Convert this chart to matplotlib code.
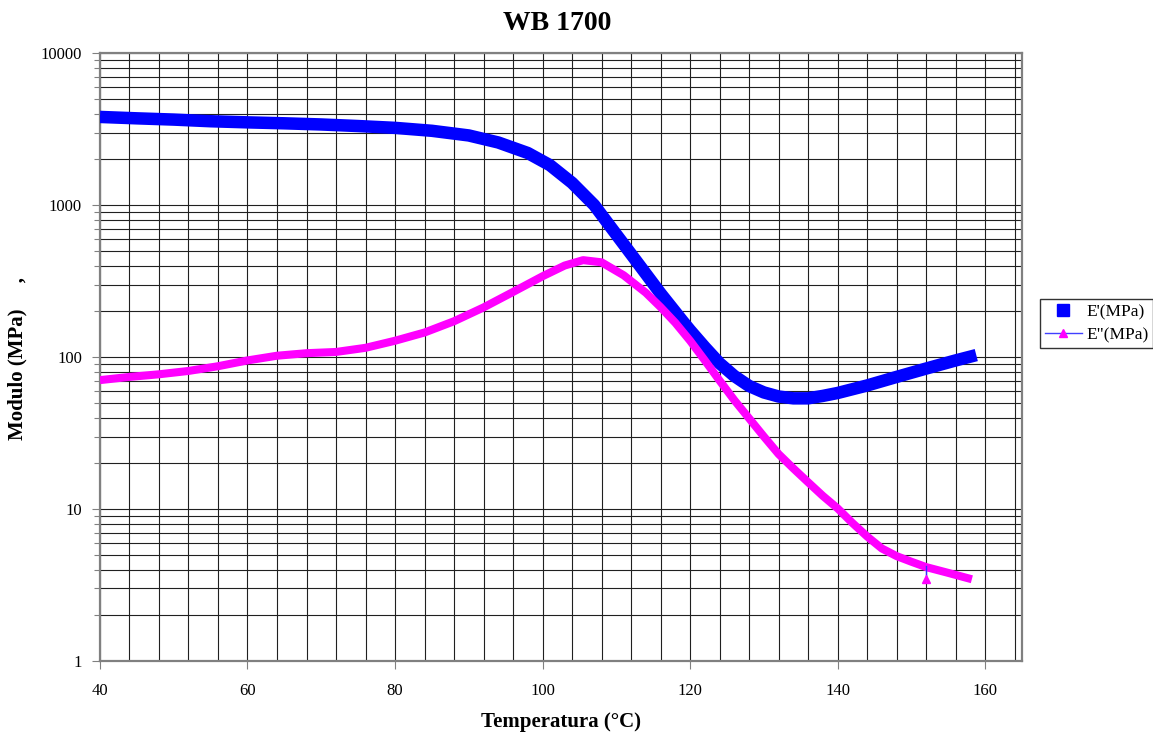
import matplotlib
matplotlib.use("Agg")
import matplotlib.pyplot as plt
from matplotlib.lines import Line2D
from matplotlib.ticker import FixedLocator, LogLocator, NullFormatter

plt.rcParams['font.family'] = ['Liberation Serif', 'DejaVu Serif']

# E' (storage modulus)
T_e1 = [40, 45, 50, 55, 60, 65, 70, 75, 80, 85, 90, 94, 98, 101, 104, 107,
        110, 113, 116, 119, 120, 122, 124, 126, 128, 130, 132, 134, 136, 138,
        140, 144, 148, 152, 156, 158.8]
E1 = [3800, 3720, 3650, 3560, 3500, 3450, 3390, 3310, 3220, 3080, 2870, 2580,
      2200, 1830, 1400, 1000, 640, 410, 262, 172, 150, 116, 91, 75, 64.5, 58.5,
      55, 53.5, 53.5, 55.5, 58, 65, 74, 84, 95, 103]

# E'' (loss modulus)
T_e2 = [40, 44, 48, 52, 56, 60, 64, 68, 72, 76, 80, 84, 88, 92, 96, 100, 103,
        105.5, 108, 111, 114, 116, 118, 120, 122, 124, 126, 128, 130, 132, 134,
        136, 138, 140, 142, 144, 146, 148, 150, 152, 155, 158.2]
E2 = [70.5, 74, 77, 81, 87, 95, 102, 106, 108, 115, 128, 145, 172, 212, 268,
      340, 400, 434, 420, 345, 265, 213, 168, 128, 95, 70, 52, 39.5, 30, 23,
      18.5, 15, 12.2, 10.1, 8.1, 6.6, 5.5, 4.9, 4.5, 4.15, 3.8, 3.45]

# one stray E'' reading near 152 C
T_spike = [152.0, 152.0]
E_spike = [4.2, 3.45]

fig = plt.figure(figsize=(11.53, 7.37), dpi=100)
ax = fig.add_axes([0.0867, 0.1031, 0.7997, 0.8249])

ax.plot(T_e1, E1, color='#0000ff', lw=9, solid_capstyle='butt',
        solid_joinstyle='round', zorder=3)
ax.plot(T_e2, E2, color='#ff00ff', lw=5.8, solid_capstyle='butt',
        solid_joinstyle='round', zorder=4)
ax.plot(T_spike, E_spike, color='#3030ff', lw=1, zorder=4)
ax.plot(T_spike[-1:], E_spike[-1:], ls='none', marker='^', ms=6,
        color='#ff00ff', zorder=5)

ax.set_yscale('log')
ax.set_xlim(40, 165)
ax.set_ylim(1, 10000)

ax.xaxis.set_major_locator(FixedLocator([40, 60, 80, 100, 120, 140, 160]))
ax.xaxis.set_minor_locator(FixedLocator(list(range(44, 165, 4))))
ax.yaxis.set_minor_locator(LogLocator(base=10, subs=range(2, 10), numticks=20))
ax.yaxis.set_minor_formatter(NullFormatter())
ax.set_yticks([1, 10, 100, 1000, 10000])
ax.set_yticklabels(['1', '10', '100', '1000', '10000'])

ax.grid(True, which='both', axis='both', color='#202020', lw=0.8, zorder=1)
ax.set_axisbelow(True)
ax.tick_params(axis='x', which='major', direction='out', length=6, width=0.8,
               color='#808080', labelsize=12, pad=10)
ax.tick_params(axis='x', which='minor', length=0)
ax.tick_params(axis='y', which='major', direction='out', length=6, width=0.8,
               color='#808080', labelsize=12, pad=7)
ax.tick_params(axis='y', which='minor', direction='out', length=4, width=0.8,
               color='#808080')
for s in ax.spines.values():
    s.set_color('#808080')
    s.set_linewidth(1.6)

ax.set_xlabel('Temperatura (°C)', fontsize=15, fontweight='bold', labelpad=9)
ax.set_ylabel('Modulo (MPa)     ,', fontsize=15, fontweight='bold',
              va='center')
ax.yaxis.set_label_coords(-0.089, 0.497)
fig.suptitle('WB 1700', fontsize=20, fontweight='bold', x=0.483, y=0.985)

handles = [
    Line2D([], [], ls='none', marker='s', ms=8, color='#0000ff'),
    Line2D([], [], color='#4040ff', lw=1, marker='^', ms=6,
           mfc='#ff00ff', mec='#ff00ff'),
]
leg = fig.legend(handles, ["E'(MPa)", 'E"(MPa)'], loc='center left',
                 bbox_to_anchor=(0.902, 0.561), fontsize=12.5, frameon=True,
                 fancybox=False, edgecolor='black', handlelength=2.1,
                 handletextpad=0.25, borderpad=0.3, borderaxespad=0,
                 labelspacing=0.4)
leg.get_frame().set_linewidth(1)

fig.savefig('out.png', dpi=100)
